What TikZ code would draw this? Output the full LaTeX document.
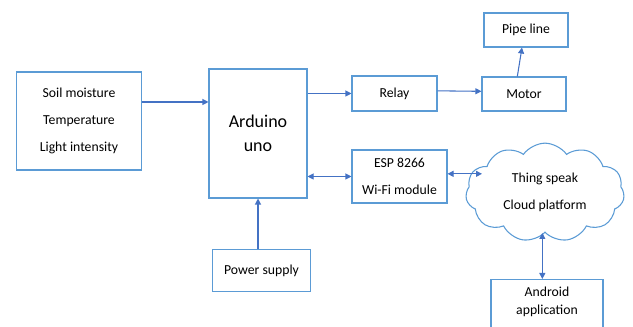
\documentclass[tikz,border=0pt]{standalone}
\usepackage{fontspec}
\setmainfont{Carlito}
\usetikzlibrary{shapes.symbols, arrows.meta, positioning}
\definecolor{boxblue}{RGB}{91,155,213}
\definecolor{lineblue}{RGB}{68,114,196}
\tikzset{
  block/.style = {
    rectangle, draw=boxblue, line width=0.8pt,
    font=\fontsize{10.3}{20}\selectfont, align=center, inner sep=2pt
  },
  bigblock/.style = {
    block, font=\fontsize{13.5}{18}\selectfont
  },
  cloudbox/.style = {
    cloud, cloud puffs=11, cloud puff arc=110, aspect=1.6, draw=boxblue,
    line width=0.8pt, font=\fontsize{10.3}{20}\selectfont, align=center
  },
  arrow/.style = {-{Triangle[length=4.5pt,width=4.5pt]}, draw=lineblue, line width=0.8pt},
  twoway/.style = {{Triangle[length=4.5pt,width=4.5pt]}-{Triangle[length=4.5pt,width=4.5pt]}, draw=lineblue, line width=0.8pt}
}

\begin{document}
\begin{tikzpicture}[x=0.75pt, y=-0.75pt]
  \useasboundingbox (0,0) rectangle (633,327);

  \node[block, minimum width=93.75pt, minimum height=73.5pt] (sensors) at (79,121)
    {Soil moisture\\Temperature\\Light intensity};
  \node[bigblock, minimum width=73.5pt, minimum height=96.75pt] (arduino) at (258,133.5)
    {Arduino\\uno};
  \node[block, minimum width=63.75pt, minimum height=26.25pt] (relay) at (394.5,93.5) {Relay};
  \node[block, minimum width=63pt, minimum height=25.5pt] (motor) at (524,94) {Motor};
  \node[block, minimum width=63pt, minimum height=25.5pt] (pipe) at (526,30) {Pipe line};
  \node[block, minimum width=71.25pt, minimum height=39.75pt] (esp) at (399.5,176.5)
    {ESP 8266\\Wi-Fi module};
  \node[cloudbox, minimum width=119pt, minimum height=74pt] (cloud) at (545,192.5)
    {Thing speak\\Cloud platform};
  \node[block, minimum width=74pt, minimum height=32pt] (power) at (261.5,270.5) {Power supply};
  \node[block, font=\fontsize{10.3}{13.5}\selectfont, minimum width=84pt,
        minimum height=60pt, anchor=north] (android) at (547,279)
    {Android\\application\\[14pt]};

  \coordinate (sensout) at (142,102);
  \coordinate (cloudin) at (482,172);

  \draw[arrow] (sensout) -- (sensout -| arduino.west);
  \draw[arrow] (arduino.east |- relay.west) -- (relay.west);
  \draw[arrow] ([yshift=2pt]relay.east) -- ([yshift=2pt]motor.west);
  \draw[arrow] ([xshift=-5pt]motor.north) -- ([xshift=-3pt]pipe.south);
  \draw[twoway] (arduino.east |- esp.west) -- (esp.west);
  \draw[twoway] ([yshift=2pt]esp.east) -- ([yshift=2pt]esp.east -| cloudin);
  \draw[twoway] ([xshift=-2pt]cloud.south) -- ([xshift=-2pt]cloud.south |- android.north);
  \draw[arrow] (power.north -| arduino.south) -- (arduino.south);

\end{tikzpicture}
\end{document}
